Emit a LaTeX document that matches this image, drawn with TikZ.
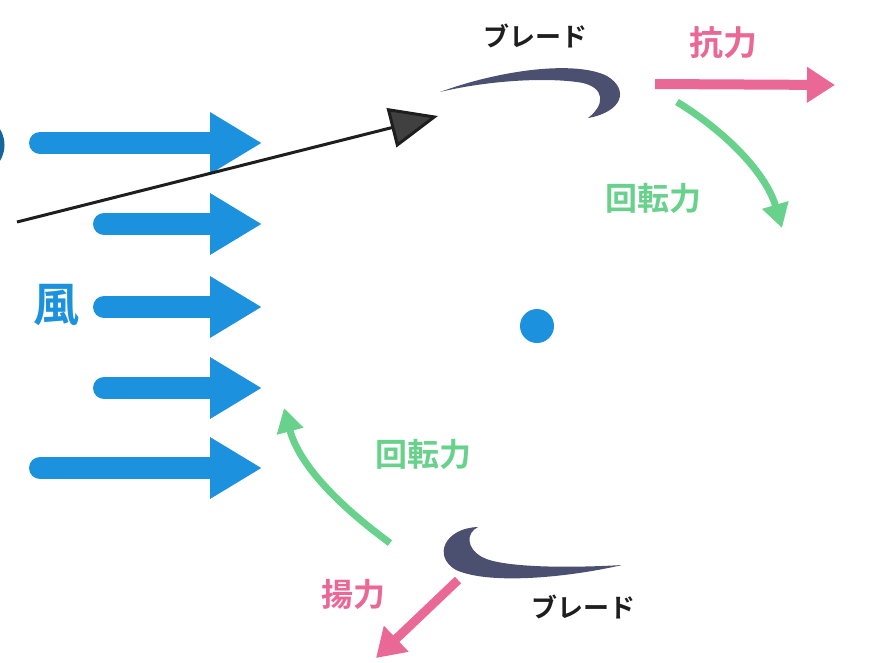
\documentclass[tikz,border=0pt]{standalone}
\usepackage{fontspec}
\newfontfamily\jp{Noto Sans CJK JP}[BoldFont={* Bold}]
\usetikzlibrary{arrows.meta}
\definecolor{windblue}{RGB}{28,146,222}
\definecolor{forcepink}{RGB}{234,104,150}
\definecolor{rotgreen}{RGB}{104,210,140}
\definecolor{bladegray}{RGB}{76,80,112}
\definecolor{labelblack}{RGB}{30,30,30}
\tikzset{
  wind/.style={draw=windblue, line width=22pt, line cap=round,
    -{Triangle[length=52pt,width=58pt]}},
  pinkarrow/.style={draw=forcepink, line width=10pt,
    -{Triangle[length=28pt,width=34pt]}},
  greenarrow/.style={draw=rotgreen, line width=7pt,
    -{Triangle[length=24pt,width=26pt]}},
  blackarrow/.style={draw=labelblack, line width=3pt,
    -{Triangle[length=48pt,width=40pt,fill=black!75]}},
  lbl/.style={inner sep=0pt, font=\jp\bfseries},
  blade/.style={fill=bladegray, draw=none}
}
\begin{document}
\begin{tikzpicture}[x=1pt,y=-1pt]
\useasboundingbox (0,0) rectangle (869,662);
\fill[white] (0,0) rectangle (869,662);
% partial circle at left edge
\draw[draw=windblue!70!black, line width=5pt] (-26,145) circle (28);
% wind arrows
\coordinate (w1s) at (40,143);  \coordinate (w1e) at (262,143);
\coordinate (w2s) at (104,224); \coordinate (w2e) at (262,224);
\coordinate (w3s) at (104,307); \coordinate (w3e) at (262,307);
\coordinate (w4s) at (104,388); \coordinate (w4e) at (262,388);
\coordinate (w5s) at (40,468);  \coordinate (w5e) at (262,468);
\draw[wind] (w1s) -- (w1e);
\draw[wind] (w2s) -- (w2e);
\draw[wind] (w3s) -- (w3e);
\draw[wind] (w4s) -- (w4e);
\draw[wind] (w5s) -- (w5e);
\node[lbl, text=windblue, font=\jp\bfseries\fontsize{46}{46}\selectfont] (kaze) at (56,305) {風};
% black arrow
\coordinate (bs) at (17,222);
\coordinate (be) at (438,116);
\draw[blackarrow] (bs) -- (be);
% top blade
\fill[blade] (440,92) .. controls (500,70) and (575,60) .. (607,76)
  .. controls (630,90) and (622,112) .. (588,118)
  .. controls (606,104) and (604,88) .. (583,83)
  .. controls (550,77) and (490,80) .. (440,92) -- cycle;
\node[lbl, text=labelblack, font=\jp\bfseries\fontsize{26}{26}\selectfont] (bladetop) at (535,36) {ブレード};
% drag
\node[lbl, text=forcepink, font=\jp\bfseries\fontsize{34}{34}\selectfont] (kouryoku) at (723,43) {抗力};
\coordinate (ds) at (655,84); \coordinate (de) at (835,85);
\draw[pinkarrow] (ds) -- (de);
% top rotation
\coordinate (gts) at (677,102); \coordinate (gte) at (782,228);
\draw[greenarrow] (gts) .. controls (720,128) and (765,170) .. (gte);
\node[lbl, text=rotgreen, font=\jp\bfseries\fontsize{32}{32}\selectfont] (rot1) at (653,198) {回転力};
% hub
\node[circle, fill=windblue, minimum size=34pt, inner sep=0pt] (hub) at (537,326) {};
% bottom rotation
\coordinate (gbs) at (390,543); \coordinate (gbe) at (284,408);
\draw[greenarrow] (gbs) .. controls (345,510) and (300,468) .. (gbe);
\node[lbl, text=rotgreen, font=\jp\bfseries\fontsize{32}{32}\selectfont] (rot2) at (423,454) {回転力};
% bottom blade
\fill[blade] (478,527) .. controls (445,528) and (432,556) .. (456,570)
  .. controls (492,586) and (575,576) .. (622,565)
  .. controls (572,568) and (502,568) .. (482,557)
  .. controls (466,548) and (466,533) .. (478,527) -- cycle;
\node[lbl, text=labelblack, font=\jp\bfseries\fontsize{26}{26}\selectfont] (bladebot) at (583,607) {ブレード};
% lift
\node[lbl, text=forcepink, font=\jp\bfseries\fontsize{32}{32}\selectfont] (youryoku) at (353,594) {揚力};
\coordinate (ls) at (458,580); \coordinate (le) at (376,658);
\draw[pinkarrow, line width=9pt] (ls) -- (le);
\end{tikzpicture}
\end{document}
